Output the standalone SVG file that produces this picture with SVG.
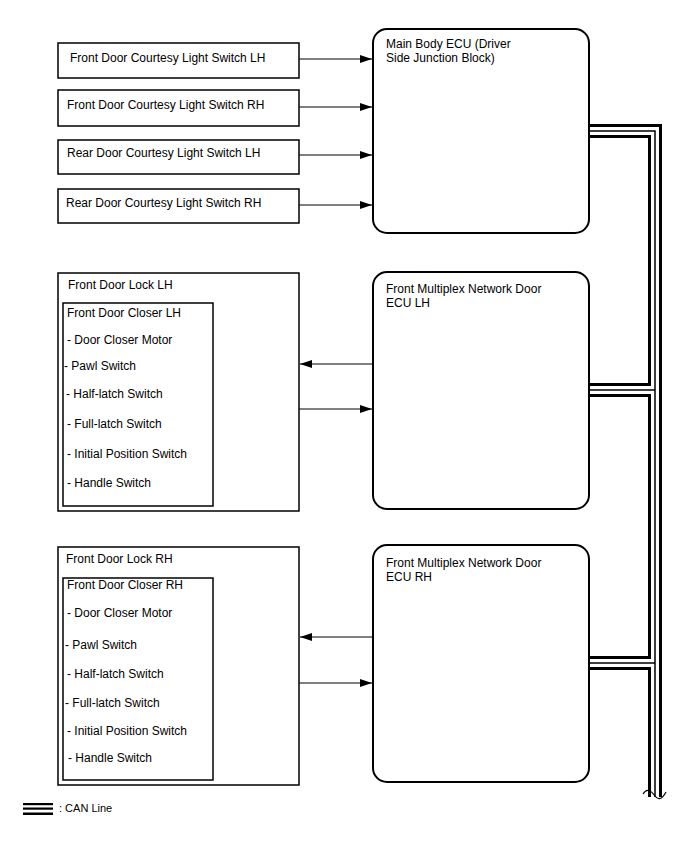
<svg xmlns="http://www.w3.org/2000/svg" width="688" height="852" viewBox="0 0 688 852">
<style>
text{font-family:"Liberation Sans",Arial,sans-serif;font-size:12px;fill:#000}
.box{fill:#fff;stroke:#000;stroke-width:1.5}
.ecu{fill:#fff;stroke:#000;stroke-width:2}
.arr{stroke:#000;stroke-width:1;fill:none;marker-end:url(#ah)}
.canB{stroke:#000;stroke-width:14;fill:none;stroke-linejoin:miter}
.canW{stroke:#fff;stroke-width:8;fill:none;stroke-linejoin:miter}
.canC{stroke:#000;stroke-width:1.5;fill:none;stroke-linejoin:miter}
</style>
<defs>
<marker id="ah" viewBox="0 0 12 8" refX="12" refY="4" markerWidth="12" markerHeight="8" markerUnits="userSpaceOnUse" orient="auto">
<path d="M0,0 L12,4 L0,8 Z" fill="#000"/>
</marker>
</defs>
<rect width="688" height="852" fill="#fff"/>

<g id="can-bus">
<path class="canB" d="M589,131 H655 V797"/>
<path class="canB" d="M589,390 H655"/>
<path class="canB" d="M589,663 H655"/>
<path class="canW" d="M589,131 H655 V797"/>
<path class="canW" d="M589,390 H655"/>
<path class="canW" d="M589,663 H655"/>
<path class="canC" d="M589,131 H655 V797"/>
<path class="canC" d="M589,390 H655"/>
<path class="canC" d="M589,663 H655"/>
<path d="M643,794 Q648,786 655,796 Q660,803 666,792" fill="none" stroke="#000" stroke-width="1.2"/>
</g>

<g id="sw-fd-lh"><rect class="box" x="58" y="43" width="241" height="35"/><text x="70" y="62">Front Door Courtesy Light Switch LH</text></g>
<g id="sw-fd-rh"><rect class="box" x="58" y="90" width="241" height="36"/><text x="67" y="109">Front Door Courtesy Light Switch RH</text></g>
<g id="sw-rd-lh"><rect class="box" x="58" y="140" width="241" height="34"/><text x="67" y="157">Rear Door Courtesy Light Switch LH</text></g>
<g id="sw-rd-rh"><rect class="box" x="58" y="189" width="241" height="34"/><text x="66" y="207">Rear Door Courtesy Light Switch RH</text></g>

<g id="main-ecu"><rect class="ecu" x="373" y="29" width="216" height="204" rx="14"/><text x="386" y="48">Main Body ECU (Driver</text><text x="386" y="62">Side Junction Block)</text></g>

<g id="lock-lh">
<rect class="box" x="58" y="273" width="241" height="238"/>
<text x="68" y="289">Front Door Lock LH</text>
<rect class="box" x="63" y="303" width="150" height="203"/>
<text x="67" y="317">Front Door Closer LH</text>
<text x="67" y="344">- Door Closer Motor</text>
<text x="64" y="370">- Pawl Switch</text>
<text x="66" y="398">- Half-latch Switch</text>
<text x="67" y="428">- Full-latch Switch</text>
<text x="67" y="458">- Initial Position Switch</text>
<text x="67" y="487">- Handle Switch</text>
</g>

<g id="ecu-lh"><rect class="ecu" x="373" y="272" width="216" height="237" rx="14"/><text x="386" y="293">Front Multiplex Network Door</text><text x="386" y="307">ECU LH</text></g>

<g id="lock-rh">
<rect class="box" x="58" y="547" width="241" height="238"/>
<text x="66" y="563">Front Door Lock RH</text>
<rect class="box" x="63" y="578" width="150" height="202"/>
<text x="67" y="589">Front Door Closer RH</text>
<text x="67" y="617">- Door Closer Motor</text>
<text x="65" y="649">- Pawl Switch</text>
<text x="67" y="678">- Half-latch Switch</text>
<text x="65" y="707">- Full-latch Switch</text>
<text x="67" y="735">- Initial Position Switch</text>
<text x="68" y="762">- Handle Switch</text>
</g>

<g id="ecu-rh"><rect class="ecu" x="373" y="545" width="216" height="237" rx="14"/><text x="386" y="567">Front Multiplex Network Door</text><text x="386" y="581">ECU RH</text></g>

<g id="connectors">
<line class="arr" x1="299" y1="59" x2="372" y2="59"/>
<line class="arr" x1="299" y1="107" x2="372" y2="107"/>
<line class="arr" x1="299" y1="155" x2="372" y2="155"/>
<line class="arr" x1="299" y1="205" x2="372" y2="205"/>
<line class="arr" x1="373" y1="364" x2="300" y2="364"/>
<line class="arr" x1="299" y1="409" x2="372" y2="409"/>
<line class="arr" x1="373" y1="637" x2="300" y2="637"/>
<line class="arr" x1="299" y1="683" x2="372" y2="683"/>
</g>

<g id="legend">
<rect x="23" y="803" width="30" height="2.2" fill="#000"/>
<rect x="23" y="807.5" width="30" height="2.2" fill="#000"/>
<rect x="23" y="812.5" width="30" height="2.5" fill="#000"/>
<text x="59" y="812" style="font-size:11px">: CAN Line</text>
</g>
</svg>
